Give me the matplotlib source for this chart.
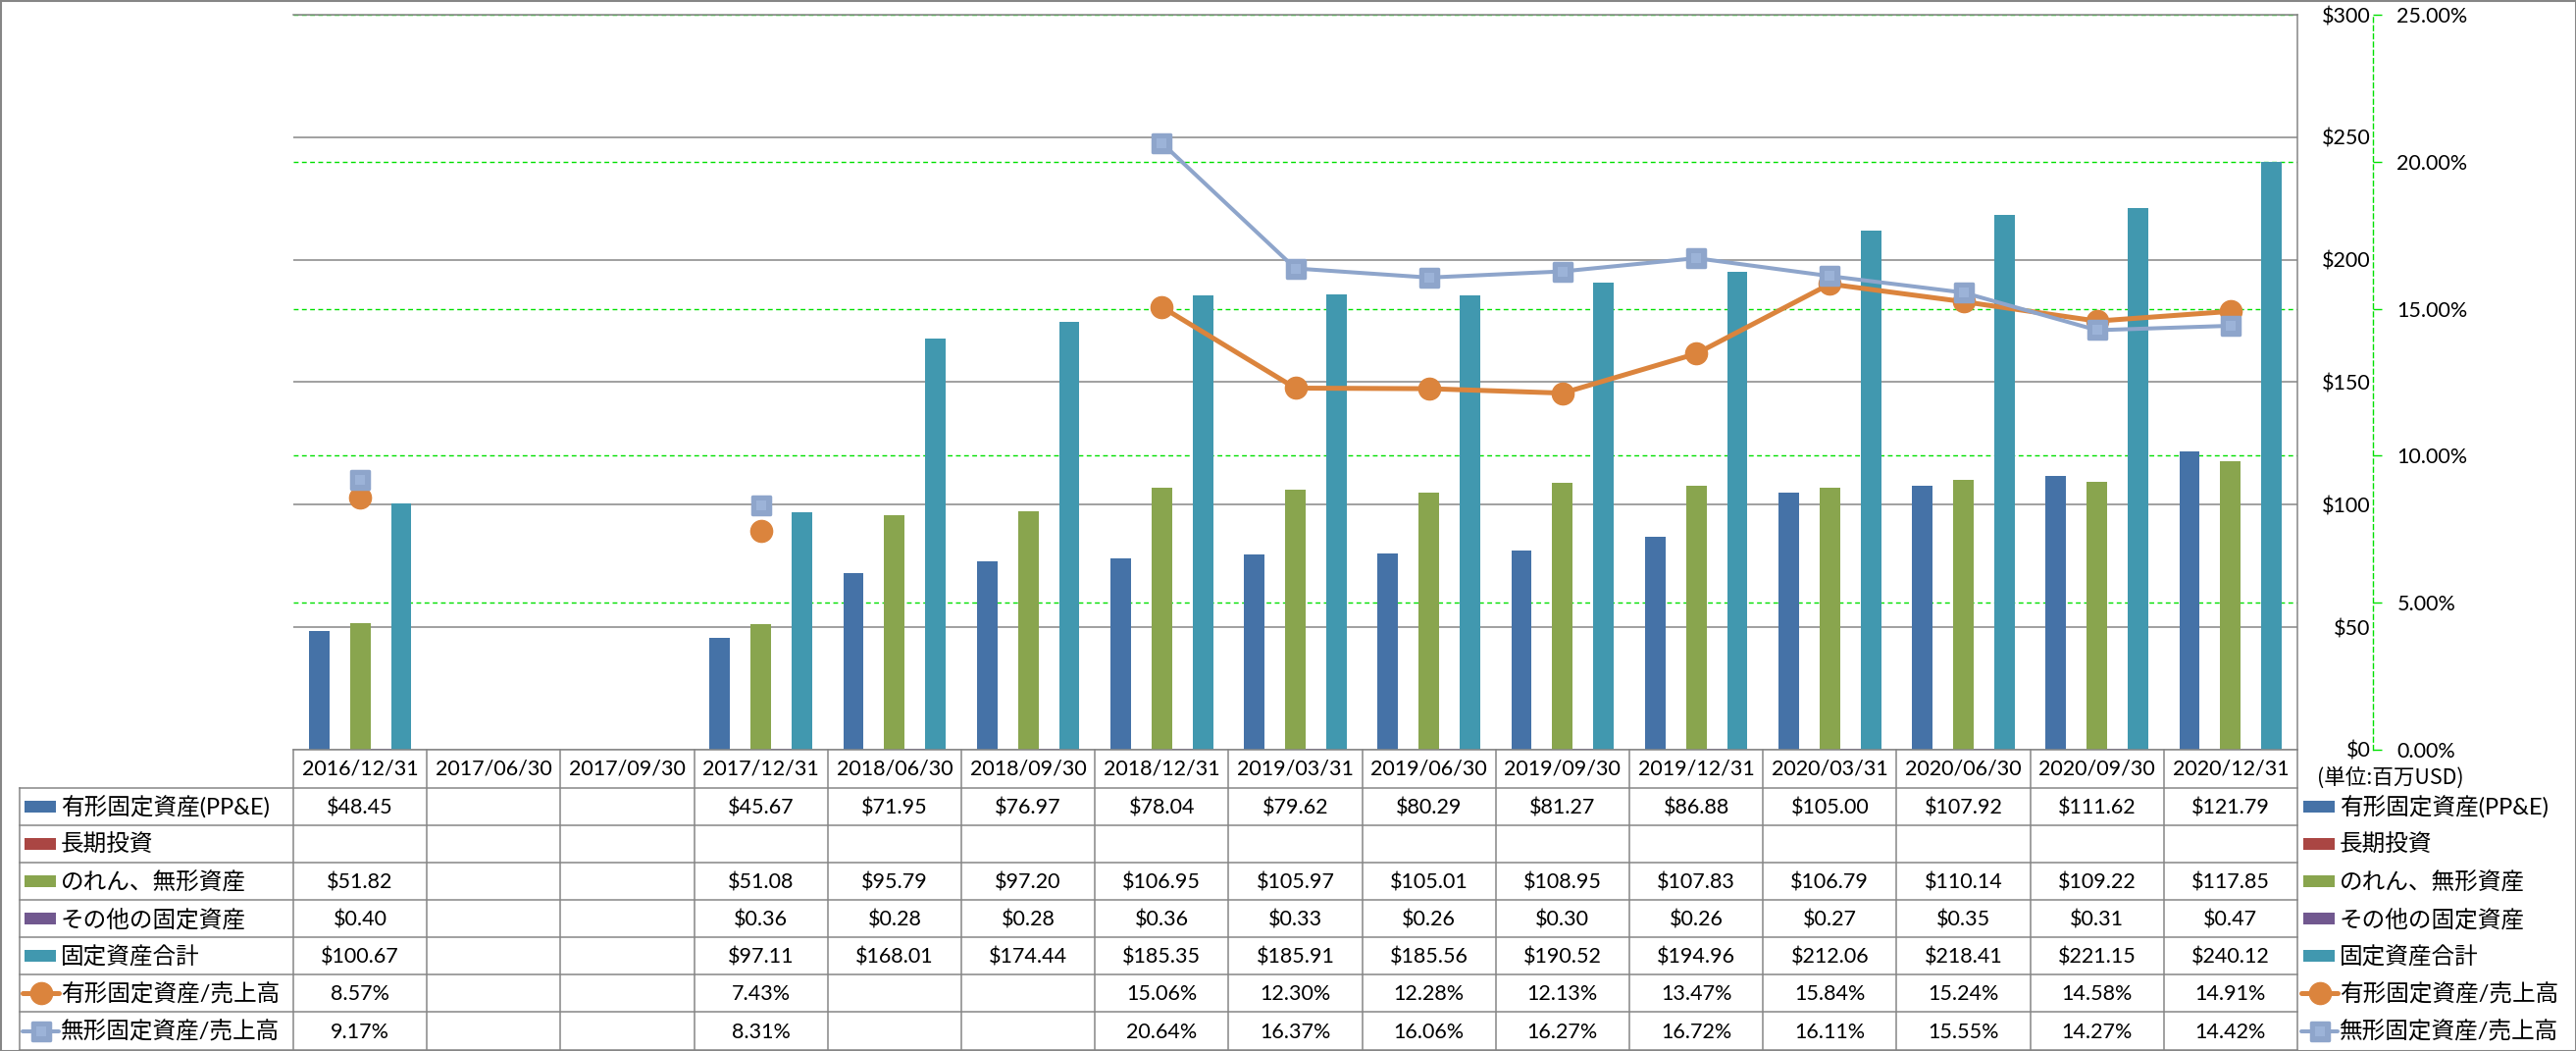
import numpy as np
import matplotlib
matplotlib.use("Agg")
import matplotlib.pyplot as plt
from matplotlib.patches import Rectangle
from matplotlib.markers import MarkerStyle

plt.rcParams['font.family'] = ['Lato', 'Noto Sans CJK JP', 'DejaVu Sans']

nan = np.nan
dates = ["2016/12/31", "2017/06/30", "2017/09/30", "2017/12/31", "2018/06/30",
         "2018/09/30", "2018/12/31", "2019/03/31", "2019/06/30", "2019/09/30",
         "2019/12/31", "2020/03/31", "2020/06/30", "2020/09/30", "2020/12/31"]
ppe = [48.45, nan, nan, 45.67, 71.95, 76.97, 78.04, 79.62, 80.29, 81.27,
       86.88, 105.00, 107.92, 111.62, 121.79]
lt_invest = [nan] * 15
goodwill = [51.82, nan, nan, 51.08, 95.79, 97.20, 106.95, 105.97, 105.01, 108.95,
            107.83, 106.79, 110.14, 109.22, 117.85]
other_fixed = [0.40, nan, nan, 0.36, 0.28, 0.28, 0.36, 0.33, 0.26, 0.30,
               0.26, 0.27, 0.35, 0.31, 0.47]
total_fixed = [100.67, nan, nan, 97.11, 168.01, 174.44, 185.35, 185.91, 185.56, 190.52,
               194.96, 212.06, 218.41, 221.15, 240.12]
ppe_ratio = [8.57, nan, nan, 7.43, nan, nan, 15.06, 12.30, 12.28, 12.13,
             13.47, 15.84, 15.24, 14.58, 14.91]
intang_ratio = [9.17, nan, nan, 8.31, nan, nan, 20.64, 16.37, 16.06, 16.27,
                16.72, 16.11, 15.55, 14.27, 14.42]

bar_names = ["有形固定資産(PP&E)", "長期投資", "のれん、無形資産", "その他の固定資産", "固定資産合計"]
line_names = ["有形固定資産/売上高", "無形固定資産/売上高"]
unit_label = "(単位:百万USD)"

y1_ticks = [0, 50, 100, 150, 200, 250, 300]
y2_ticks = [0, 5, 10, 15, 20, 25]

bar_colors = ["#4572A7", "#AA4643", "#89A54E", "#71588F", "#4198AF"]
c_orange = "#DB843D"
c_lblue = "#8EA5CB"
c_lblue_in = "#9CB3D8"
grid_gray = "#868686"
green = "#00E000"

W, H = 2626, 1071
fig = plt.figure(figsize=(W / 100, H / 100), dpi=100)
fig.patch.set_facecolor("white")

L, R, T, B = 299, 2342, 15, 764
TB = 1070
ax = fig.add_axes([L / W, (H - B) / H, (R - L) / W, (B - T) / H])
n = len(dates)
x = np.arange(n)
ax.set_xlim(-0.5, n - 0.5)
ax.set_ylim(0, 300)

# green secondary gridlines (drawn behind bars)
for t in y2_ticks[1:]:
    ax.axhline(t * 300 / 25, color=green, lw=1.0, ls=(0, (3.5, 2.5)), zorder=0.6)

series = [ppe, lt_invest, goodwill, other_fixed, total_fixed]
bw = 1 / 6.5
for k, (vals, col) in enumerate(zip(series, bar_colors)):
    ax.bar(x + (k - 2) * bw, np.nan_to_num(vals), width=bw, color=col, zorder=2, linewidth=0)

ax.set_xticks([])
ax.yaxis.grid(True, color=grid_gray, lw=1.1, zorder=0.5)
ax.set_axisbelow(True)
ax.spines['left'].set_visible(False)
for s in ['top', 'right', 'bottom']:
    ax.spines[s].set_color(grid_gray)
    ax.spines[s].set_linewidth(1.1)

ax2 = ax.twinx()
ax2.set_xlim(-0.5, n - 0.5)
ax2.set_ylim(0, 25)
ax2.set_yticks(y2_ticks)
ax2.set_yticklabels([f"{v:.2f}%" for v in y2_ticks])
for s in ['left', 'top', 'bottom']:
    ax2.spines[s].set_visible(False)
ax2.spines['right'].set_position(('axes', 1 + 77 / (R - L)))
ax2.spines['right'].set_color(green)
ax2.spines['right'].set_linestyle((0, (3.5, 2.5)))
ax2.spines['right'].set_linewidth(1.0)
ax2.tick_params(axis='y', length=6.5, width=1.0, color=green, labelcolor='black',
                pad=11, labelsize=15.5)

# primary axis labels on the right (after twinx, which resets them to the left)
ax.set_yticks(y1_ticks)
ax.set_yticklabels([f"${v}" for v in y1_ticks])
ax.yaxis.tick_right()
ax.tick_params(axis='y', which='both', left=False, right=True, labelleft=False,
               labelright=True, length=0, pad=53.5, labelsize=15.5)
for lab in ax.get_yticklabels(which='both'):
    lab.set_horizontalalignment('right')

sq = MarkerStyle('s', joinstyle='round')
ax2.plot(x, ppe_ratio, color=c_orange, lw=3.6, marker='o', ms=16, mec=c_orange,
         zorder=4, solid_capstyle='round')
ax2.plot(x, intang_ratio, color=c_lblue, lw=2.9, marker=sq, ms=13, mec=c_lblue,
         mew=2.5, zorder=5, solid_capstyle='round')
ax2.plot(x, intang_ratio, ls='none', marker='s', ms=7, color=c_lblue_in, mew=0, zorder=6)

# ---------- data table ----------
tax = fig.add_axes([L / W, (H - TB) / H, (R - L) / W, (TB - B) / H])
tax.set_xlim(-0.5, n - 0.5)
tax.set_ylim(TB, B)
tax.axis('off')

colw = (R - L) / n


def px2x(px):
    return -0.5 + (px - L) / colw


row_edges = [B, 803, 841, 879, 917, 955, 993, 1031, TB]
lc = dict(color=grid_gray, lw=1.1, clip_on=False)
for yy in row_edges[1:]:
    tax.plot([px2x(20), n - 0.5], [yy, yy], **lc)
tax.plot([px2x(20), px2x(20)], [row_edges[1], TB], **lc)
for i in range(n + 1):
    tax.plot([i - 0.5, i - 0.5], [B, TB], **lc)

fs = 15.5
for i, d in enumerate(dates):
    tax.text(i, (row_edges[0] + row_edges[1]) / 2, d, ha='center', va='center',
             fontsize=fs, clip_on=False)


def fmt_money(v):
    return "" if np.isnan(v) else f"${v:.2f}"


def fmt_pct(v):
    return "" if np.isnan(v) else f"{v:.2f}%"


row_vals = [
    [fmt_money(v) for v in ppe],
    [fmt_money(v) for v in lt_invest],
    [fmt_money(v) for v in goodwill],
    [fmt_money(v) for v in other_fixed],
    [fmt_money(v) for v in total_fixed],
    [fmt_pct(v) for v in ppe_ratio],
    [fmt_pct(v) for v in intang_ratio],
]
names = bar_names + line_names
for r in range(7):
    yc = (row_edges[r + 1] + row_edges[r + 2]) / 2
    for i in range(n):
        if row_vals[r][i]:
            tax.text(i, yc + 1, row_vals[r][i], ha='center', va='center',
                     fontsize=fs, clip_on=False)
    for (kx0, kx1, tx) in [(25, 57, 62), (2348, 2380, 2385)]:
        if r < 5:
            tax.add_patch(Rectangle((px2x(kx0), yc - 6), px2x(kx1) - px2x(kx0), 12,
                                    color=bar_colors[r], lw=0, clip_on=False))
        else:
            lx0, lx1 = kx0 - 2, kx1 + 3
            xm = px2x((lx0 + lx1) / 2)
            if r == 5:
                tax.plot([px2x(lx0), px2x(lx1)], [yc, yc], color=c_orange, lw=3.6,
                         clip_on=False, solid_capstyle='round')
                tax.plot([xm], [yc], marker='o', ms=16, color=c_orange, clip_on=False)
            else:
                tax.plot([px2x(lx0), px2x(lx1)], [yc, yc], color=c_lblue, lw=2.9,
                         clip_on=False, solid_capstyle='round')
                tax.plot([xm], [yc], marker=sq, ms=13, color=c_lblue, mec=c_lblue,
                         mew=2.5, clip_on=False)
                tax.plot([xm], [yc], marker='s', ms=7, color=c_lblue_in, mew=0,
                         clip_on=False)
        tax.text(px2x(tx), yc + 1, names[r], ha='left', va='center', fontsize=17,
                 clip_on=False)

tax.text(px2x(2362), 793, unit_label, ha='left', va='center', fontsize=15.5,
         family=['Noto Sans CJK JP', 'DejaVu Sans'], clip_on=False)

fig.add_artist(Rectangle((0, 0), 1, 1, transform=fig.transFigure, fill=False,
                         ec=grid_gray, lw=2.2))

fig.savefig("out.png", dpi=100, facecolor="white")
